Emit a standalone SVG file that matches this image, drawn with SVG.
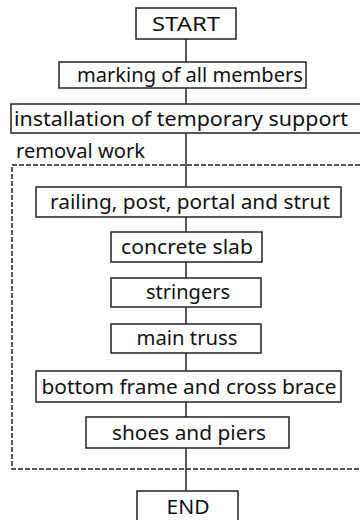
<svg xmlns="http://www.w3.org/2000/svg" width="360" height="520" viewBox="0 0 360 520">
<style>
.box{fill:#fff;stroke:#222;stroke-width:1.5}
.t{font-family:"Noto Sans","DejaVu Sans",sans-serif;font-size:20px;fill:#111;text-anchor:middle}
.l{font-family:"Noto Sans","DejaVu Sans",sans-serif;font-size:20px;fill:#111}
.c{stroke:#222;stroke-width:1.5;fill:none}
.d{stroke:#222;stroke-width:1.5;fill:none;stroke-dasharray:5 2}
</style>
<rect width="360" height="520" fill="#fff"/>
<g id="connectors">
<line class="c" x1="186" y1="39" x2="186" y2="62"/>
<line class="c" x1="186" y1="88" x2="186" y2="104"/>
<line class="c" x1="186" y1="133" x2="186" y2="187"/>
<line class="c" x1="186" y1="217" x2="186" y2="232"/>
<line class="c" x1="186" y1="262" x2="186" y2="278"/>
<line class="c" x1="186" y1="307" x2="186" y2="324"/>
<line class="c" x1="186" y1="353" x2="186" y2="371"/>
<line class="c" x1="186" y1="402" x2="186" y2="417"/>
<line class="c" x1="186" y1="448" x2="186" y2="491"/>
</g>
<g id="removal-work">
<path class="d" d="M360 165 H12 V469 H360"/>
<text class="l" x="16" y="158" textLength="129" lengthAdjust="spacingAndGlyphs">removal work</text>
</g>
<g id="start"><rect class="box" x="136" y="8" width="100" height="31"/><text class="t" x="186" y="31" textLength="68" lengthAdjust="spacingAndGlyphs">START</text></g>
<g id="marking"><rect class="box" x="59" y="62" width="247" height="26"/><text class="t" x="190" y="82" textLength="226" lengthAdjust="spacingAndGlyphs">marking of all members</text></g>
<g id="installation"><rect class="box" x="11" y="104" width="352" height="29"/><text class="t" x="181" y="126" textLength="334" lengthAdjust="spacingAndGlyphs">installation of temporary support</text></g>
<g id="railing"><rect class="box" x="36" y="187" width="305" height="30"/><text class="t" x="190" y="209" textLength="280" lengthAdjust="spacingAndGlyphs">railing, post, portal and strut</text></g>
<g id="concrete"><rect class="box" x="111" y="232" width="151" height="30"/><text class="t" x="187" y="254" textLength="132" lengthAdjust="spacingAndGlyphs">concrete slab</text></g>
<g id="stringers"><rect class="box" x="111" y="278" width="150" height="29"/><text class="t" x="188" y="299" textLength="84" lengthAdjust="spacingAndGlyphs">stringers</text></g>
<g id="truss"><rect class="box" x="111" y="324" width="150" height="29"/><text class="t" x="187" y="345" textLength="101" lengthAdjust="spacingAndGlyphs">main truss</text></g>
<g id="bottom"><rect class="box" x="36" y="371" width="305" height="31"/><text class="t" x="189" y="394" textLength="295" lengthAdjust="spacingAndGlyphs">bottom frame and cross brace</text></g>
<g id="shoes"><rect class="box" x="86" y="417" width="203" height="31"/><text class="t" x="189" y="440" textLength="154" lengthAdjust="spacingAndGlyphs">shoes and piers</text></g>
<g id="end"><rect class="box" x="137" y="491" width="101" height="35"/><text class="t" x="188" y="514" textLength="43" lengthAdjust="spacingAndGlyphs">END</text></g>
</svg>
